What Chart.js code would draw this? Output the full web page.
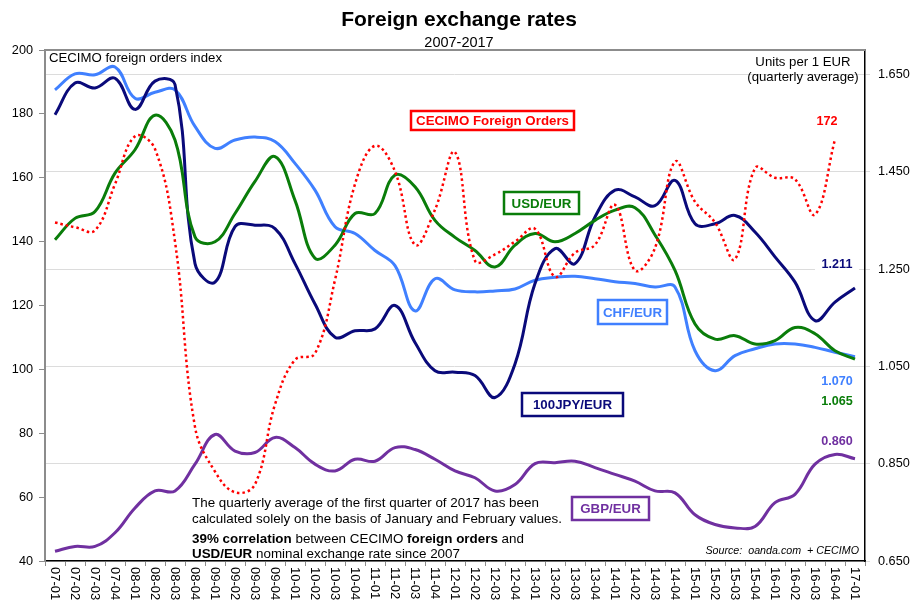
<!DOCTYPE html>
<html><head><meta charset="utf-8">
<script src="https://cdn.jsdelivr.net/npm/chart.js@4"></script>
<style>html,body{margin:0;padding:0;background:#fff}#wrap{width:915px;height:602px}</style>
</head><body><div id="wrap"><canvas id="c" width="915" height="602"></canvas></div>
<script>
const quarters = ['07-01','07-02','07-03','07-04','08-01','08-02','08-03','08-04','09-01','09-02','09-03','09-04','10-01','10-02','10-03','10-04','11-01','11-02','11-03','11-04','12-01','12-02','12-03','12-04','13-01','13-02','13-03','13-04','14-01','14-02','14-03','14-04','15-01','15-02','15-03','15-04','16-01','16-02','16-03','16-04','17-01'];
const cecimoOrders = [146,144.5,143.5,158,173,169,140,82,68,61.5,64,89,103,105,128,158,170,162,139,150,168,134,136,140,144,129,136.5,139,151.5,131,138,165,152.5,146,134.5,163,160,159.5,148.5,172,null];
const usdEur = [1.310,1.354,1.368,1.447,1.495,1.566,1.515,1.316,1.306,1.364,1.430,1.481,1.391,1.272,1.299,1.364,1.364,1.443,1.419,1.350,1.315,1.288,1.254,1.299,1.323,1.306,1.323,1.350,1.371,1.376,1.320,1.247,1.137,1.106,1.113,1.096,1.103,1.130,1.117,1.082,1.065];
const chfEur = [1.618,1.651,1.649,1.665,1.601,1.613,1.618,1.543,1.498,1.515,1.521,1.512,1.467,1.412,1.337,1.323,1.288,1.257,1.164,1.230,1.207,1.203,1.205,1.209,1.227,1.233,1.235,1.230,1.224,1.220,1.213,1.213,1.082,1.041,1.072,1.086,1.096,1.096,1.089,1.079,1.070];
const jpyEur = [1.567,1.632,1.622,1.642,1.578,1.636,1.629,1.261,1.223,1.337,1.340,1.333,1.261,1.178,1.110,1.123,1.127,1.175,1.099,1.041,1.038,1.031,0.986,1.055,1.220,1.292,1.261,1.357,1.412,1.398,1.380,1.432,1.343,1.343,1.360,1.326,1.275,1.223,1.144,1.182,1.211];
const gbpEur = [0.670,0.680,0.680,0.708,0.759,0.794,0.794,0.849,0.910,0.876,0.873,0.904,0.883,0.849,0.835,0.859,0.855,0.883,0.879,0.859,0.835,0.821,0.794,0.807,0.850,0.852,0.855,0.842,0.828,0.814,0.794,0.790,0.745,0.725,0.718,0.721,0.770,0.787,0.849,0.869,0.860];
const leftTicks = [40,60,80,100,120,140,160,180,200];
const rightTicks = [0.65,0.85,1.05,1.25,1.45,1.65];

const FONT = '"Liberation Sans", Arial, sans-serif';
const C = {red:'#ff0000', green:'#0a7d0a', blue:'#4080ff', navy:'#0a0a7a', purple:'#7030a0'};

const deco = {
  id:'deco',
  afterDraw(chart){
    const ctx = chart.ctx, a = chart.chartArea, xs = chart.scales.x;
    ctx.save();
    ctx.strokeStyle = '#8c8c8c'; ctx.lineWidth = 2;
    ctx.beginPath(); ctx.moveTo(a.left, a.top); ctx.lineTo(a.right, a.top); ctx.stroke();
    ctx.fillStyle = '#000'; ctx.textAlign = 'center'; ctx.textBaseline = 'middle';
    ctx.font = 'bold 21px ' + FONT; ctx.fillText('Foreign exchange rates', 459, 20);
    ctx.font = '14.5px ' + FONT; ctx.fillText('2007-2017', 459, 43);
    ctx.font = '13px ' + FONT; ctx.textAlign = 'left';
    quarters.forEach((q, i) => {
      const x = xs.getPixelForTick(i);
      ctx.save(); ctx.translate(x, 567); ctx.rotate(Math.PI/2);
      ctx.fillText(q, 0, 0); ctx.restore();
    });
    ctx.font = '13.2px ' + FONT; ctx.textAlign = 'left';
    ctx.fillText('CECIMO foreign orders index', 49, 58);
    ctx.textAlign = 'center';
    ctx.fillText('Units per 1 EUR', 803, 62);
    ctx.fillText('(quarterly average)', 803, 77);
    const box = (t, col, x1, y1, x2, y2) => {
      ctx.fillStyle = '#fff'; ctx.fillRect(x1, y1, x2-x1, y2-y1);
      ctx.strokeStyle = col; ctx.lineWidth = 2.5; ctx.strokeRect(x1, y1, x2-x1, y2-y1);
      ctx.fillStyle = col; ctx.font = 'bold 13.3px ' + FONT; ctx.textAlign = 'center';
      ctx.fillText(t, (x1+x2)/2, (y1+y2)/2 + 1);
    };
    box('CECIMO Foreign Orders', C.red, 411, 111, 574, 130);
    box('USD/EUR', C.green, 504, 192, 579, 214);
    box('CHF/EUR', C.blue, 598, 300, 667, 324);
    box('100JPY/EUR', C.navy, 522, 393, 623, 416);
    box('GBP/EUR', C.purple, 572, 497, 649, 520);
    ctx.font = 'bold 12.6px ' + FONT; ctx.textAlign = 'center';
    ctx.fillStyle = C.red; ctx.fillText('172', 827, 122);
    ctx.fillStyle = '#fff'; ctx.fillRect(815, 257, 44, 17);
    ctx.fillStyle = C.navy; ctx.fillText('1.211', 837, 265);
    ctx.fillStyle = C.blue; ctx.fillText('1.070', 837, 382);
    ctx.fillStyle = C.green; ctx.fillText('1.065', 837, 402);
    ctx.fillStyle = C.purple; ctx.fillText('0.860', 837, 442);
    ctx.fillStyle = '#000'; ctx.textAlign = 'left';
    const runs = (parts, x, y) => {
      parts.forEach(([t, b]) => {
        ctx.font = (b ? 'bold ' : '') + '13.4px ' + FONT;
        ctx.fillText(t, x, y); x += ctx.measureText(t).width;
      });
    };
    runs([['The quarterly average of the first quarter of 2017 has been', false]], 192, 503);
    runs([['calculated solely on the basis of January and February values.', false]], 192, 519);
    runs([['39% correlation', true], [' between CECIMO ', false], ['foreign orders', true], [' and', false]], 192, 539);
    runs([['USD/EUR', true], [' nominal exchange rate since 2007', false]], 192, 554);
    ctx.font = 'italic 10.7px ' + FONT; ctx.textAlign = 'right';
    ctx.fillText('Source:  oanda.com  + CECIMO', 859, 551);
    ctx.restore();
  }
};

const line = (data, col, axis, extra) => Object.assign({
  data, borderColor: col, backgroundColor: col, borderWidth: 3, pointRadius: 0,
  tension: 0.4, fill: false, yAxisID: axis
}, extra || {});

new Chart(document.getElementById('c'), {
  type: 'line',
  data: {
    labels: quarters,
    datasets: [
      line(cecimoOrders, C.red, 'y', {borderWidth: 2.5, borderDash: [2.5, 3], label: 'CECIMO Foreign Orders'}),
      line(usdEur, C.green, 'y2', {label: 'USD/EUR'}),
      line(jpyEur, C.navy, 'y2', {label: '100JPY/EUR'}),
      line(chfEur, C.blue, 'y2', {label: 'CHF/EUR'}),
      line(gbpEur, C.purple, 'y2', {label: 'GBP/EUR'})
    ]
  },
  options: {
    responsive: false, animation: false,
    layout: {padding: {top: 50, left: 0, right: 0, bottom: 0}},
    plugins: {legend: {display: false}, tooltip: {enabled: false}, title: {display: false}},
    scales: {
      x: {
        offset: true,
        grid: {offset: true, drawOnChartArea: false, tickLength: 5, color: '#8c8c8c'},
        border: {color: '#000', width: 1.5},
        ticks: {display: false, autoSkip: false},
        afterFit(s){ s.height = 41; }
      },
      y: {
        position: 'left', min: 40, max: 200,
        afterBuildTicks(s){ s.ticks = leftTicks.map(v => ({value: v})); },
        grid: {drawOnChartArea: false, tickLength: 6, color: '#8c8c8c'},
        border: {color: '#8c8c8c', width: 2},
        ticks: {font: {size: 12.7, family: FONT}, color: '#000', padding: 6},
        afterFit(s){ s.width = 45; }
      },
      y2: {
        position: 'right', min: 0.65, max: 1.70,
        afterBuildTicks(s){ s.ticks = rightTicks.map(v => ({value: v})); },
        grid: {drawOnChartArea: true, tickLength: 5, color: '#dcdcdc'},
        border: {color: '#000', width: 1.5},
        ticks: {font: {size: 12.7, family: FONT}, color: '#000', padding: 8, callback: v => v.toFixed(3)},
        afterFit(s){ s.width = 50; }
      }
    }
  },
  plugins: [deco]
});
</script>
</body></html>
